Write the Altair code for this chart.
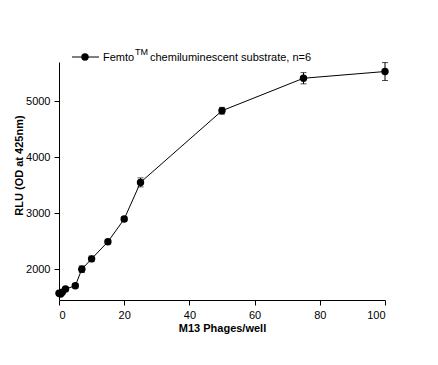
import altair as alt
import pandas as pd

phages = [0, 0.5, 1, 2, 5, 7, 10, 15, 20, 25, 50, 75, 100]
rlu = [1570, 1555, 1590, 1645, 1705, 2000, 2185, 2490, 2895, 3550, 4830, 5410, 5530]
err = [30, 30, 30, 30, 40, 60, 50, 40, 40, 80, 60, 100, 160]

x_ticks = [0, 20, 40, 60, 80, 100]
y_ticks = [2000, 3000, 4000, 5000]

df = pd.DataFrame({"x": phages, "y": rlu, "e": err})
df["lo"] = df["y"] - df["e"]
df["hi"] = df["y"] + df["e"]

FONT = "Liberation Sans"

xs = alt.Scale(domain=[0, 100], nice=False)
ys = alt.Scale(domain=[1450, 5700], nice=False, zero=False)

xenc = alt.X("x:Q", scale=xs, axis=alt.Axis(values=x_ticks, title="M13 Phages/well",
                                             titleFontWeight="bold", titleY=31,
                                             titleBaseline="alphabetic", labelPadding=4))
yenc = alt.Y("y:Q", scale=ys, axis=alt.Axis(values=y_ticks, title="RLU (OD at 425nm)", format="d",
                                             titleFontWeight="bold", titleX=-40, titleY=103,
                                             titleAlign="center", titleBaseline="middle",
                                             labelPadding=4))

base = alt.Chart(df)
line = base.mark_line(color="black", strokeWidth=1).encode(x=xenc, y=yenc)
bars = base.mark_rule(color="black", strokeWidth=1).encode(x="x:Q", y="lo:Q", y2="hi:Q")
cap_lo = base.mark_tick(color="black", orient="horizontal", size=6, thickness=1).encode(x="x:Q", y="lo:Q")
cap_hi = base.mark_tick(color="black", orient="horizontal", size=6, thickness=1).encode(x="x:Q", y="hi:Q")
pts = base.mark_point(filled=True, shape="circle", size=55, color="black", opacity=1).encode(x="x:Q", y="y:Q")

legend_df = pd.DataFrame({"k": [0]})
lb = alt.Chart(legend_df)
leg_line = lb.mark_rule(color="black", strokeWidth=1).encode(
    x=alt.value(13), x2=alt.value(40), y=alt.value(-5))
leg_pt = lb.mark_point(filled=True, shape="circle", size=55, color="black", opacity=1).encode(
    x=alt.value(26), y=alt.value(-5))
t1 = lb.mark_text(text="Femto", align="left", baseline="alphabetic", font=FONT, fontSize=11,
                  color="black").encode(x=alt.value(44), y=alt.value(-1))
t2 = lb.mark_text(text="TM", align="left", baseline="alphabetic", font=FONT, fontSize=9,
                  color="black").encode(x=alt.value(76), y=alt.value(-7))
t3 = lb.mark_text(text="chemiluminescent substrate, n=6", align="left", baseline="alphabetic",
                  font=FONT, fontSize=11, color="black").encode(x=alt.value(91), y=alt.value(-1))

chart = alt.layer(line, bars, cap_lo, cap_hi, pts, leg_line, leg_pt, t1, t2, t3).properties(
    width=326, height=238,
    autosize=alt.AutoSizeParams(type="none"),
    padding={"left": 51, "top": 54, "right": 40, "bottom": 50},
    background="white",
).configure_view(stroke=None).configure_axis(
    grid=False, domainColor="black", tickColor="black", labelColor="black", titleColor="black",
    labelFont=FONT, titleFont=FONT, labelFontSize=11, titleFontSize=11,
    tickSize=5, domainWidth=1, tickWidth=1,
)

chart.save("out.html", embed_options={"renderer": "svg", "actions": False})
